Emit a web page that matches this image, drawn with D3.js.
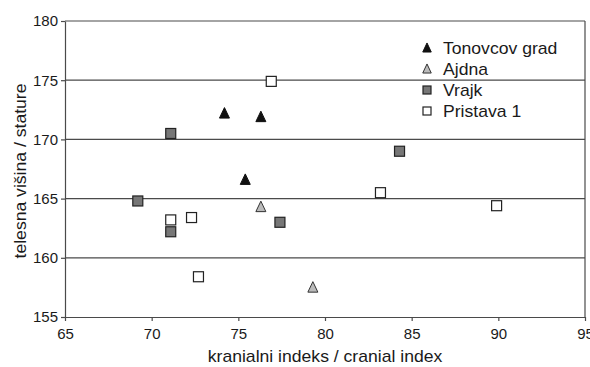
<!DOCTYPE html>
<html><head><meta charset="utf-8">
<script src="https://cdn.jsdelivr.net/npm/d3@7"></script>
<style>body{margin:0;background:#fff}svg{display:block}text{font-family:"Liberation Sans",Arial,sans-serif;fill:#1a1a1a}</style>
</head><body>
<svg id="c" width="590" height="367"></svg>
<script>
const seriesNames = ["Tonovcov grad", "Ajdna", "Vrajk", "Pristava 1"];
const tonovcovX = [74.2, 76.3, 75.4];
const tonovcovY = [172.2, 171.9, 166.6];
const ajdnaX = [76.3, 79.3];
const ajdnaY = [164.3, 157.5];
const vrajkX = [71.1, 69.2, 71.1, 77.4, 84.3];
const vrajkY = [170.5, 164.8, 162.2, 163.0, 169.0];
const pristavaX = [76.9, 71.1, 72.3, 72.7, 83.2, 89.9];
const pristavaY = [174.9, 163.2, 163.4, 158.4, 165.5, 164.4];
const xTicks = [65, 70, 75, 80, 85, 90, 95];
const yTicks = [155, 160, 165, 170, 175, 180];

const svg = d3.select("#c");
const L = 65, R = 585, T = 21, B = 317;
const x = d3.scaleLinear().domain([65, 95]).range([L, R]);
const y = d3.scaleLinear().domain([155, 180]).range([B, T]);
const lineCol = "#4a4a4a";

svg.append("g").selectAll("line").data(yTicks.filter(v => v > 155)).join("line")
  .attr("x1", L).attr("x2", R).attr("y1", d => y(d)).attr("y2", d => y(d))
  .attr("stroke", lineCol).attr("stroke-width", 1.2);
svg.append("line").attr("x1", R).attr("x2", R).attr("y1", T).attr("y2", B)
  .attr("stroke", lineCol).attr("stroke-width", 1.2);

const xAxis = svg.append("g").attr("transform", `translate(0,${B})`)
  .call(d3.axisBottom(x).tickValues(xTicks).tickSize(4).tickSizeOuter(0).tickPadding(7));
const yAxis = svg.append("g").attr("transform", `translate(${L},0)`)
  .call(d3.axisLeft(y).tickValues(yTicks).tickSize(4).tickSizeOuter(0).tickPadding(3));
[xAxis, yAxis].forEach(a => {
  a.select(".domain").attr("stroke", lineCol).attr("stroke-width", 1.2);
  a.selectAll(".tick line").attr("stroke", lineCol).attr("stroke-width", 1.2);
  a.selectAll(".tick text").style("font-size", "15px").attr("fill", "#1a1a1a");
});

const styles = [
  {type: "tri", fill: "#111", stroke: "#111"},
  {type: "tri", fill: "#bbb", stroke: "#333"},
  {type: "sq", fill: "#777", stroke: "#222"},
  {type: "sq", fill: "#fff", stroke: "#222"}
];
const data = [
  d3.zip(tonovcovX, tonovcovY), d3.zip(ajdnaX, ajdnaY),
  d3.zip(vrajkX, vrajkY), d3.zip(pristavaX, pristavaY)
];
function drawMarker(g, st, cx, cy, s) {
  if (st.type === "tri") {
    const h = s * 0.95;
    g.append("path")
      .attr("d", `M${cx},${cy - h/2 - 1}L${cx + s/2},${cy + h/2}L${cx - s/2},${cy + h/2}Z`)
      .attr("fill", st.fill).attr("stroke", st.stroke).attr("stroke-width", 1);
  } else {
    g.append("rect").attr("x", cx - s/2).attr("y", cy - s/2).attr("width", s).attr("height", s)
      .attr("fill", st.fill).attr("stroke", st.stroke).attr("stroke-width", 1.2);
  }
}
const pts = svg.append("g");
data.forEach((arr, i) => {
  arr.forEach(([vx, vy]) => drawMarker(pts, styles[i], x(vx), y(vy), 10));
});

const lg = svg.append("g");
seriesNames.forEach((n, i) => {
  const cy = 48 + i * 21;
  drawMarker(lg, styles[i], 427, cy, styles[i].type === "tri" ? 8.5 : 8);
  lg.append("text").attr("transform", `translate(443,${cy + 6}) scale(1.1,1)`)
    .style("font-size", "16px").text(n);
});

svg.append("text").attr("transform", `translate(${(L + R) / 2},362) scale(1.1,1)`)
  .attr("text-anchor", "middle").style("font-size", "16px").text("kranialni indeks / cranial index");
svg.append("text").attr("transform", `translate(26,${(T + B) / 2 + 2}) rotate(-90) scale(1.1,1)`)
  .attr("text-anchor", "middle").style("font-size", "16px").text("telesna višina / stature");
</script>
</body></html>
